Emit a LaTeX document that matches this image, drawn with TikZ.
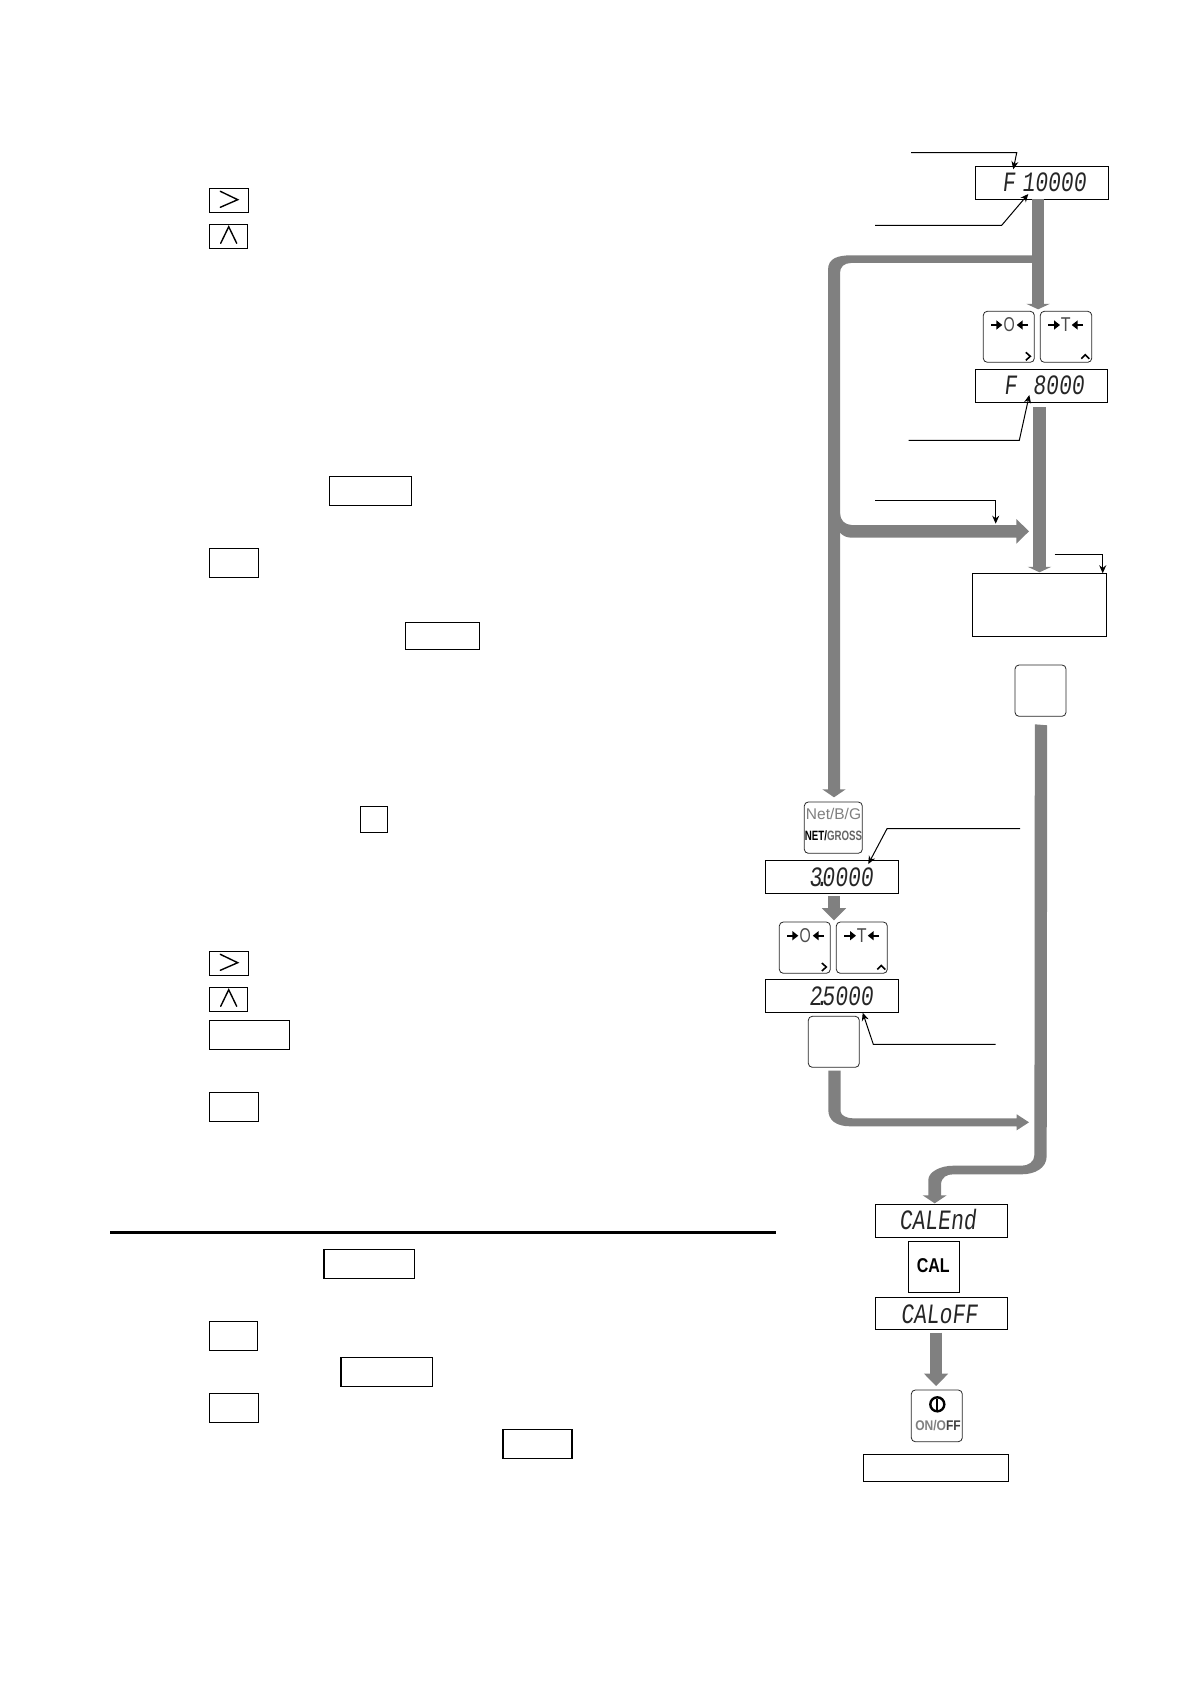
\documentclass[tikz,border=0pt]{standalone}
\usepackage{fontspec}
\usetikzlibrary{arrows.meta,calc}
\setmainfont{Liberation Sans}
\newfontfamily\segfont[FakeSlant=0.12,FakeStretch=0.76]{Liberation Mono}
\definecolor{flowgray}{HTML}{808080}
\tikzset{
  plainbox/.style={draw=black,line width=1.2pt,fill=white,inner sep=0pt,outer sep=0pt},
  keybox/.style={draw=black!85,line width=.8pt,fill=white,rounded corners=4pt,inner sep=0pt,outer sep=0pt},
  flow/.style={draw=flowgray,line width=12.3pt},
  flowtipa/.style={-{Triangle[width=23.5pt,length=5.5pt]}},
  flowtipb/.style={-{Triangle[width=23.5pt,length=12.3pt]}},
  flowshape/.style={fill=flowgray,draw=none},
  leader/.style={draw=black,line width=1pt},
  leadertip/.style={leader,-{Stealth[width=7pt,length=8pt]}},
  segtext/.style={anchor=base east,inner sep=0pt,text=black!85,font=\segfont\fontsize{28}{28}\selectfont},
  chevron/.style={draw=black,line width=1.4pt,line cap=round},
  smallchev/.style={draw=black,line width=1.6pt},
  fatarrow/.style={draw=black,line width=2.4pt,-{Triangle[width=9pt,length=6pt]}},
  thinglyph/.style={inner sep=0pt,text=black!70}
}
% #1 name, #2-#5 corners x1 y1 x2 y2, #6 style
\newcommand{\bx}[6]{\node[#6,minimum width={(#4-#2)*1pt},minimum height={(#5-#3)*1pt}] (#1) at ({(#2+#4)/2},{(#3+#5)/2}) {};}
\newcommand{\zerokeyglyphs}[3]{%
  \begin{scope}[shift={(#1,#2)}]
    \draw[fatarrow] (7.7,13.7) -- (19,13.7);
    \draw[fatarrow] (44.7,13.7) -- (33.4,13.7);
    \node[thinglyph,xscale=.72,font=\fontsize{20}{20}\selectfont] (#3) at (26,13.7) {O};
    \draw[smallchev] (42.5,41) -- (47,45) -- (42.5,49);
  \end{scope}}
\newcommand{\tarekeyglyphs}[3]{%
  \begin{scope}[shift={(#1,#2)}]
    \draw[fatarrow] (8,13.7) -- (19.7,13.7);
    \draw[fatarrow] (42.7,13.7) -- (31.4,13.7);
    \node[thinglyph,xscale=.8,font=\fontsize{20}{20}\selectfont] (#3) at (25.4,13.7) {T};
    \draw[smallchev] (41,47.5) -- (45,43.5) -- (49,47.5);
  \end{scope}}
\begin{document}
\begin{tikzpicture}[x=1pt,y=-1pt]
\useasboundingbox (0,0) rectangle (1191,1685);

% ---- left column boxes
\bx{a1}{209.3}{188.3}{248.3}{212.7}{plainbox}
\bx{b1}{209.3}{224.3}{247.7}{248.7}{plainbox}
\bx{c1}{329.3}{476.3}{411.7}{505.3}{plainbox}
\bx{d1}{209.3}{548.3}{258.7}{577.3}{plainbox}
\bx{e1}{405.3}{622.3}{479.7}{649.3}{plainbox}
\bx{f1}{360.3}{806.3}{387.7}{832.7}{plainbox}
\bx{a2}{209.3}{951.3}{248.3}{975.7}{plainbox}
\bx{b2}{209.3}{987.3}{247.7}{1011.7}{plainbox}
\bx{i1}{209.3}{1020.3}{289.7}{1049.3}{plainbox}
\bx{j1}{209.3}{1092.3}{258.7}{1121.7}{plainbox}
\bx{k1}{324}{1249.3}{414.5}{1278.7}{plainbox}
\bx{l1}{209.3}{1321.3}{257.5}{1350.3}{plainbox}
\bx{m1}{341}{1357.3}{432.8}{1386.3}{plainbox}
\bx{n1}{209.3}{1393.3}{258.5}{1422.3}{plainbox}
\bx{o1}{503}{1429.3}{572}{1458.3}{plainbox}
\draw[chevron] (220.3,191.3) -- (237.7,199.7) -- (220.3,207.3);
\draw[chevron] (220.7,243.3) -- (228.7,226.7) -- (236.7,243.3);
\draw[chevron] (220.3,954.3) -- (237.7,962.7) -- (220.3,970.3);
\draw[chevron] (220.7,1006.3) -- (228.7,989.7) -- (236.7,1006.3);
\coordinate (ruleL) at (110,1232.5);
\coordinate (ruleR) at (776,1232.5);
\draw[draw=black,line width=3pt] (ruleL) -- (ruleR);

% ---- right column displays and keys
\bx{disp1}{975.3}{166.3}{1108.7}{199.3}{plainbox}
\bx{kz1}{983.3}{311.3}{1034.3}{362.3}{keybox}
\bx{kt1}{1040.3}{311.3}{1091.7}{362.3}{keybox}
\bx{disp2}{975.3}{369.3}{1107.7}{402.3}{plainbox}
\bx{msg}{972.3}{573.3}{1106.7}{636.7}{plainbox}
\bx{kblank1}{1015}{665}{1066}{716.3}{keybox}
\bx{knet}{804.3}{802}{862.3}{853.3}{keybox}
\bx{disp3}{765.3}{860.3}{898.7}{893.7}{plainbox}
\bx{kz2}{779.3}{922}{830.3}{973.3}{keybox}
\bx{kt2}{836.3}{922}{887.3}{973.3}{keybox}
\bx{disp4}{765.3}{979.3}{898.7}{1012.3}{plainbox}
\bx{kblank2}{808.3}{1016.3}{859.3}{1067.3}{keybox}
\bx{disp5}{875.3}{1204.3}{1007.7}{1237.3}{plainbox}
\bx{kcal}{908.3}{1241.3}{959.3}{1292.3}{plainbox}
\bx{disp6}{875.3}{1297.7}{1007.7}{1329.3}{plainbox}
\bx{konoff}{911.3}{1390}{962.3}{1441.7}{keybox}
\bx{bottom}{863.3}{1454.3}{1008.3}{1481.3}{plainbox}

% ---- display readings
\node[segtext] (t1) at (1086,191.7) {F\hspace{7pt}10000};
\node[segtext] (t2) at (1084,394.5) {F\hspace{16pt}8000};
\node[segtext] (t3) at (873,886) {3\kern-6.4pt.\kern-6.4pt0000};
\node[segtext] (t4) at (873,1005) {2\kern-6.4pt.\kern-6.4pt5000};
\node[segtext] (t5) at (976,1229.3) {CALEnd};
\node[segtext] (t6) at (977.5,1323.3) {CALoFF};

% ---- key faces
\zerokeyglyphs{983.3}{311.3}{zeroa}
\tarekeyglyphs{1040.3}{311.3}{tarea}
\zerokeyglyphs{779.3}{922}{zerob}
\tarekeyglyphs{836.3}{922}{tareb}
\node[inner sep=0pt,text=black!50,font=\fontsize{15.5}{15.5}\selectfont] (netbg) at (833.5,814) {Net/B/G};
\node[inner sep=0pt,xscale=.72,font=\bfseries\fontsize{13.5}{13.5}\selectfont] (netgross) at (833.5,835.7) {NET/\textcolor{black!60}{GROSS}};
\node[inner sep=0pt,font=\bfseries\fontsize{20}{20}\selectfont,xscale=.8,text=black] (caltxt) at (933.3,1266) {CAL};
\draw[black,line width=2.4pt] (937.3,1404.3) circle (7);
\draw[black,line width=2pt] (937.3,1399) -- (937.3,1409.5);
\node[inner sep=0pt,xscale=.86,font=\bfseries\fontsize{14}{14}\selectfont] (onoff) at (938,1425.3) {\textcolor{black!50}{ON/O}\textcolor{black!75}{FF}};

% ---- flow rails
\coordinate (railA) at (1038.1,0);
\coordinate (railB) at (1039.5,0);
\coordinate (railC) at (834,0);
\coordinate (railD) at (936.1,0);
\draw[flow,flowtipa,shorten >=2pt] (disp1.south -| railA) -- (kz1.north -| railA);
\draw[flow,flowtipa,shorten >=1pt] ($(disp2.south -| railB)+(0,4.7)$) -- (msg.north -| railB);
\draw[flow,flowtipb,shorten >=1.5pt] ($(disp3.south -| railC)+(0,2.3)$) -- (kz2.north -| railC);
\draw[flow,flowtipb,shorten >=4pt] ($(disp6.south -| railD)+(0,3.4)$) -- (konoff.north -| railD);

\path[flowshape] (1032,255.3) -- (851.7,255.3) .. controls (838,255.3) and (828,258) .. (828,270)
  -- (828,789.3) -- (822.3,789.3) -- (834,797.3) -- (845.7,789.3) -- (840,789.3)
  -- (840,273) .. controls (840,267) and (844,263) .. (851,263) -- (1032,263) -- cycle;
\path[flowshape] (840,513.3) .. controls (840,520) and (845,525) .. (851.7,525) -- (1016.3,525) -- (1016.3,519)
  -- (1029,531.3) -- (1016.3,543.7) -- (1016.3,537.7) -- (851.7,537.7)
  .. controls (847,537.7) and (843,536) .. (840,532.7) -- cycle;
\path[flowshape] (828.3,1070.7) -- (840.7,1070.7) -- (840.7,1111.7) .. controls (840.7,1115) and (846,1118.3) .. (853.3,1118.3)
  -- (1016.7,1118.3) -- (1016.7,1114.3) -- (1029,1122.3) -- (1016.7,1130.3) -- (1016.7,1126.3) -- (850,1126.3)
  .. controls (836,1126.3) and (828.3,1120) .. (828.3,1110) -- cycle;
\path[flowshape] (1034.8,724.3) -- (1047.2,725.3) -- (1046.7,1156) .. controls (1046.7,1168) and (1035,1174.3) .. (1021.7,1174.3)
  -- (953.3,1174.3) .. controls (947,1174.3) and (941,1177) .. (941,1185) -- (941,1195.3) -- (946.7,1195.3)
  -- (934.7,1203.3) -- (922.7,1195.3) -- (928.3,1195.3) -- (928.3,1180) .. controls (928.3,1172) and (940,1165.7) .. (953.3,1165.7)
  -- (1021.7,1165.7) .. controls (1028,1165.7) and (1034.4,1162) .. (1034.4,1155) -- cycle;

% ---- leader lines
\coordinate (l1s) at (911,152.7);
\coordinate (l1m) at (1016.7,152.7);
\coordinate (l1e) at (1013.3,169.3);
\draw[leadertip] (l1s) -- (l1m) -- (l1e);
\coordinate (l2s) at (875,225.3);
\coordinate (l2m) at (1001.7,225.3);
\coordinate (l2e) at (1028.3,194);
\draw[leadertip] (l2s) -- (l2m) -- (l2e);
\coordinate (l3s) at (908.7,440.3);
\coordinate (l3m) at (1019.3,440.3);
\coordinate (l3e) at (1029.3,395);
\draw[leadertip] (l3s) -- (l3m) -- (l3e);
\coordinate (l4s) at (875,500.3);
\coordinate (l4m) at (995.7,500.3);
\coordinate (l4e) at (995.7,523.7);
\draw[leadertip] (l4s) -- (l4m) -- (l4e);
\coordinate (l5s) at (1054.7,554.3);
\coordinate (l5m) at (1102.7,554.3);
\draw[leadertip] (l5s) -- (l5m) -- (l5m |- msg.north);
\coordinate (l6s) at (1020,828.7);
\coordinate (l6m) at (887,828.7);
\coordinate (l6e) at (868.3,864);
\draw[leadertip] (l6s) -- (l6m) -- (l6e);
\coordinate (l7s) at (995.7,1044.3);
\coordinate (l7m) at (873.3,1044.3);
\coordinate (l7e) at (862.7,1012.7);
\draw[leadertip] (l7s) -- (l7m) -- (l7e);
\end{tikzpicture}
\end{document}
